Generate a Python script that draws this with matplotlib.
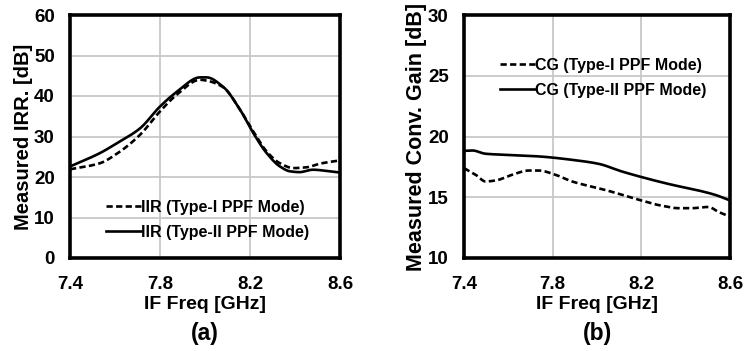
import matplotlib
matplotlib.use("Agg")
import matplotlib.pyplot as plt
import numpy as np

plt.rcParams['font.family'] = ['Liberation Sans', 'DejaVu Sans']
plt.rcParams['font.weight'] = 'bold'
plt.rcParams['lines.scale_dashes'] = False

# (a) image rejection ratio vs IF frequency
irr_f_type2 = [7.40, 7.533, 7.607, 7.711, 7.80, 7.874, 7.978, 8.007, 8.08, 8.156,
               8.215, 8.274, 8.333, 8.378, 8.42, 8.48, 8.54, 8.60]
irr_type2 = [22.6, 25.9, 28.3, 32.0, 37.4, 41.0, 44.6, 44.6, 42.3, 36.6,
             30.8, 25.9, 22.6, 21.4, 21.2, 21.8, 21.5, 21.1]
irr_f_type1 = [7.40, 7.533, 7.607, 7.711, 7.80, 7.874, 7.978, 8.007, 8.08, 8.156,
               8.215, 8.274, 8.333, 8.393, 8.452, 8.511, 8.60]
irr_type1 = [21.9, 23.4, 25.7, 30.4, 36.2, 40.3, 44.0, 43.8, 42.2, 36.6,
             31.2, 26.3, 23.4, 22.2, 22.4, 23.3, 24.1]

# (b) conversion gain vs IF frequency
cg_f_type2 = [7.40, 7.4375, 7.4975, 7.5875, 7.7375, 7.8875, 8.0075, 8.1125,
              8.2175, 8.3375, 8.4575, 8.5325, 8.60]
cg_type2 = [18.82, 18.85, 18.58, 18.49, 18.36, 18.08, 17.75, 17.12,
            16.58, 16.03, 15.56, 15.20, 14.74]
cg_f_type1 = [7.40, 7.4525, 7.4975, 7.5425, 7.6175, 7.6925, 7.7375, 7.8125,
              7.8875, 8.0375, 8.1875, 8.2925, 8.3675, 8.4275, 8.5025, 8.5475, 8.60]
cg_type1 = [17.4, 16.85, 16.3, 16.38, 16.85, 17.2, 17.2, 16.85,
            16.3, 15.6, 14.8, 14.3, 14.1, 14.1, 14.2, 13.8, 13.4]

x_ticks = [7.4, 7.8, 8.2, 8.6]
x_ticklabels = ["7.4", "7.8", "8.2", "8.6"]


def smooth(xs, ys, n=300):
    xs = np.asarray(xs, float)
    ys = np.asarray(ys, float)
    # monotone cubic (PCHIP-style) interpolation for a smooth trace
    h = np.diff(xs)
    d = np.diff(ys) / h
    m = np.zeros_like(ys)
    for i in range(1, len(ys) - 1):
        if d[i - 1] * d[i] > 0:
            w1 = 2 * h[i] + h[i - 1]
            w2 = h[i] + 2 * h[i - 1]
            m[i] = (w1 + w2) / (w1 / d[i - 1] + w2 / d[i])
    m[0] = d[0]
    m[-1] = d[-1]
    xx = np.linspace(xs[0], xs[-1], n)
    idx = np.clip(np.searchsorted(xs, xx) - 1, 0, len(xs) - 2)
    t = (xx - xs[idx]) / h[idx]
    h00 = 2 * t**3 - 3 * t**2 + 1
    h10 = t**3 - 2 * t**2 + t
    h01 = -2 * t**3 + 3 * t**2
    h11 = t**3 - t**2
    yy = (h00 * ys[idx] + h10 * h[idx] * m[idx] + h01 * ys[idx + 1]
          + h11 * h[idx] * m[idx + 1])
    return xx, yy


fig = plt.figure(figsize=(7.44, 3.51), dpi=100)
W, H = 744, 351
ax1 = fig.add_axes([70 / W, 1 - 258 / H, 270 / W, 243 / H])
ax2 = fig.add_axes([464 / W, 1 - 258 / H, 266 / W, 243 / H])

lw = 1.9
dash = (4.5, 2.4)


def style(ax, yticks, ylabel, ylabel_size, letter):
    ax.set_xlim(7.4, 8.6)
    ax.set_xticks(x_ticks)
    ax.set_xticklabels(x_ticklabels)
    ax.set_ylim(yticks[0], yticks[-1])
    ax.set_yticks(yticks)
    ax.grid(True, color="#c8c8c8", linewidth=1.3)
    ax.set_axisbelow(True)
    for s in ax.spines.values():
        s.set_linewidth(2.6)
        s.set_color("black")
    ax.tick_params(axis="y", length=0, labelsize=13.5, pad=11)
    ax.tick_params(axis="x", length=0, labelsize=13.5, pad=13)
    for lab in ax.get_xticklabels() + ax.get_yticklabels():
        lab.set_fontweight("bold")
    ax.set_xlabel("IF Freq [GHz]", fontsize=14, fontweight="bold", labelpad=2)
    ax.set_ylabel(ylabel, fontsize=ylabel_size, fontweight="bold", labelpad=1)
    ax.text(0.5, -0.31, letter, transform=ax.transAxes, ha="center", va="center",
            fontsize=16.5, fontweight="bold")


leg_kw = dict(frameon=False, handlelength=2.2, handletextpad=0.0, borderaxespad=0,
              labelspacing=0.62, prop={"size": 11.5, "weight": "bold"})

x, y = smooth(irr_f_type1, irr_type1)
ax1.plot(x, y, color="black", lw=lw, dashes=dash, label="IIR (Type-I PPF Mode)")
x, y = smooth(irr_f_type2, irr_type2)
ax1.plot(x, y, color="black", lw=lw, label="IIR (Type-II PPF Mode)")
style(ax1, [0, 10, 20, 30, 40, 50, 60], "Measured IRR. [dB]", 14.5, "(a)")
ax1.legend(loc="center left", bbox_to_anchor=(0.11, 0.158), **leg_kw)

x, y = smooth(cg_f_type1, cg_type1)
ax2.plot(x, y, color="black", lw=lw, dashes=dash, label="CG (Type-I PPF Mode)")
x, y = smooth(cg_f_type2, cg_type2)
ax2.plot(x, y, color="black", lw=lw, label="CG (Type-II PPF Mode)")
style(ax2, [10, 15, 20, 25, 30], "Measured Conv. Gain [dB]", 15.5, "(b)")
ax2.legend(loc="center left", bbox_to_anchor=(0.11, 0.741), **leg_kw)

fig.savefig("out.png", dpi=100)
